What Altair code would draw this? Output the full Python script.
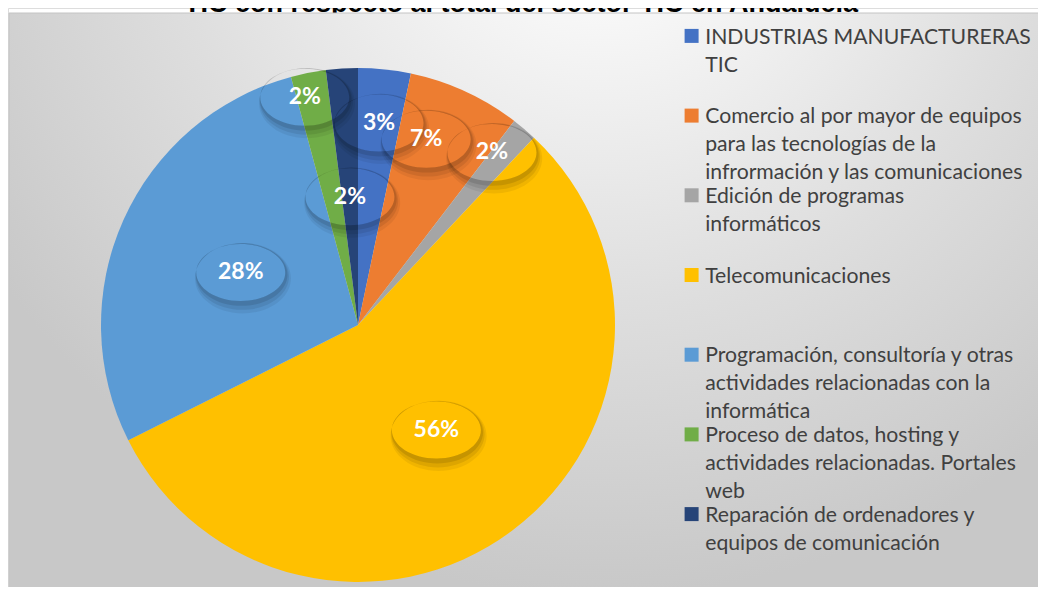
import altair as alt
import pandas as pd

TITLE = "TIC con respecto al total del sector TIC en Andalucía"

LEGEND_LINES = [
    ["INDUSTRIAS MANUFACTURERAS", "TIC"],
    ["Comercio al por mayor de equipos", "para las tecnologías de la", "infrormación y las comunicaciones"],
    ["Edición de programas", "informáticos"],
    ["Telecomunicaciones"],
    ["Programación, consultoría y otras", "actividades relacionadas con la", "informática"],
    ["Proceso de datos, hosting y", "actividades relacionadas. Portales", "web"],
    ["Reparación de ordenadores y", "equipos de comunicación"],
]
CATEGORIES = [" ".join(lines) for lines in LEGEND_LINES]
SHARES = [3.3, 7.1, 1.6, 55.6, 28.2, 2.2, 2.0]
PCT_LABELS = ["3%", "7%", "2%", "56%", "28%", "2%", "2%"]
COLORS = ["#4472C4", "#ED7D31", "#A5A5A5", "#FFC000", "#5B9BD5", "#70AD47", "#264478"]
# placement of each data label: radius as a fraction of the pie radius,
# and an angular nudge (degrees) from the slice's middle
LABEL_RADIUS = [0.79, 0.77, 0.85, 0.51, 0.50, 0.91, 0.50]
LABEL_NUDGE = [0.0, -4.5, -2.5, 0.0, 0.0, -2.0, 0.0]

# ---- layout ----
W, H = 1030, 579
R = 257.0
CX, CY = 350.0, 317.0
X_DOMAIN = [-CX / R, (W - CX) / R]
Y_DOMAIN = [-(H - CY) / R, CY / R]

df = pd.DataFrame({
    "idx": list(range(len(CATEGORIES))),
    "cat": CATEGORIES,
    "share": SHARES,
    "pct": PCT_LABELS,
    "lr": LABEL_RADIUS,
    "nudge": LABEL_NUDGE,
})


def js_arr(lines):
    return "[" + ",".join("'" + l.replace("'", "\\'") + "'" for l in lines) + "]"


label_expr = ""
for cat, lines in zip(CATEGORIES, LEGEND_LINES):
    label_expr += f"datum.label == '{cat}' ? {js_arr(lines)} : "
label_expr += "datum.label"

xs = alt.Scale(domain=X_DOMAIN, nice=False, zero=False)
ys = alt.Scale(domain=Y_DOMAIN, nice=False, zero=False)
cscale = alt.Scale(domain=CATEGORIES, range=COLORS)

legend = alt.Legend(
    title=None,
    orient="none",
    legendX=673,
    legendY=25,
    direction="vertical",
    columns=1,
    symbolType="M-1,-2.10H1V-0.10H-1Z",
    symbolSize=196,
    symbolStrokeWidth=0,
    symbolOpacity=1,
    labelFont="Lato",
    labelFontSize=21.2,
    labelColor="#404040",
    labelBaseline="alphabetic",
    labelLimit=0,
    labelOffset=3,
    rowPadding=1.7,
    gridAlign="all",
    padding=0,
    labelExpr=label_expr,
)

base = alt.Chart(df)

background = alt.Chart(pd.DataFrame({"k": [0]})).mark_rect(
    fill={
        "gradient": "radial",
        "x1": 0.57, "y1": 0.08, "r1": 0,
        "x2": 0.57, "y2": 0.08, "r2": 0.7,
        "stops": [
            {"offset": 0.0, "color": "#ffffff"},
            {"offset": 0.2, "color": "#f7f7f7"},
            {"offset": 0.6, "color": "#dedede"},
            {"offset": 1.0, "color": "#c8c8c8"},
        ],
    },
    stroke="#c4c4c4",
    strokeWidth=1,
).encode(
    x=alt.value(1), x2=alt.value(W + 8), y=alt.value(5), y2=alt.value(H + 10)
)

title = alt.Chart(pd.DataFrame({"t": [TITLE]})).mark_text(
    font="Liberation Sans", fontWeight="bold", fontSize=27, color="#000000",
    align="center", baseline="alphabetic",
).encode(text="t:N", x=alt.value(513), y=alt.value(4))

pie = base.mark_arc(outerRadius=R, strokeWidth=0).encode(
    x=alt.XDatum(0, type="quantitative", scale=xs, axis=None),
    y=alt.YDatum(0, type="quantitative", scale=ys, axis=None),
    theta=alt.Theta("share:Q", stack=True),
    order=alt.Order("idx:Q"),
    color=alt.Color("cat:N", scale=cscale, sort=CATEGORIES, legend=legend),
)

lab = base.transform_window(
    cum="sum(share)", sort=[alt.SortField("idx")], frame=[None, 0]
).transform_joinaggregate(
    total="sum(share)"
).transform_calculate(
    mid="(datum.cum - datum.share / 2) / datum.total * 2 * PI + datum.nudge * PI / 180",
    lx="datum.lr * sin(datum.mid)",
    ly="datum.lr * cos(datum.mid)",
)


def ellipse(cx, cy, rx, ry, sweep):
    return (f"M{cx - rx:.3f},{cy:.3f}A{rx:.3f},{ry:.3f},0,1,{sweep},{cx + rx:.3f},{cy:.3f}"
            f"A{rx:.3f},{ry:.3f},0,1,{sweep},{cx - rx:.3f},{cy:.3f}Z")


# callout ellipse: rx = 1, ry = 0.64 (unit = 44.5 px); its soft drop shadow is
# built from offset, enlarged ellipses minus the callout itself
CALLOUT_SIZE = 89 * 89
CALLOUT = ellipse(0, 0, 1, 0.64, 0)
SHADOWS = [
    (ellipse(0.05, 0.13, 1.08, 0.79, 1) + CALLOUT, 0.06),
    (ellipse(0.035, 0.09, 1.05, 0.75, 1) + CALLOUT, 0.08),
    (ellipse(0.02, 0.05, 1.03, 0.70, 1) + CALLOUT, 0.10),
]

pos = dict(
    x=alt.X("lx:Q", scale=xs, axis=None),
    y=alt.Y("ly:Q", scale=ys, axis=None),
)

shadow_layers = [
    lab.mark_point(
        shape=path, size=CALLOUT_SIZE, filled=True, fill="#000000",
        opacity=op, strokeWidth=0,
    ).encode(**pos)
    for path, op in SHADOWS
]
texts = lab.mark_text(
    font="Lato", fontWeight="bold", fontSize=23, color="#ffffff",
    align="center", baseline="middle",
).encode(text="pct:N", **pos)

chart = alt.layer(
    title, background, pie, *shadow_layers, texts
).properties(
    width=W, height=H,
    autosize=alt.AutoSizeParams(type="none"),
    padding=0,
).configure_view(stroke=None).configure(
    style={"guide-label": {"lineHeight": 28}}
)

chart.save("out.html", embed_options={"renderer": "svg", "actions": False})
